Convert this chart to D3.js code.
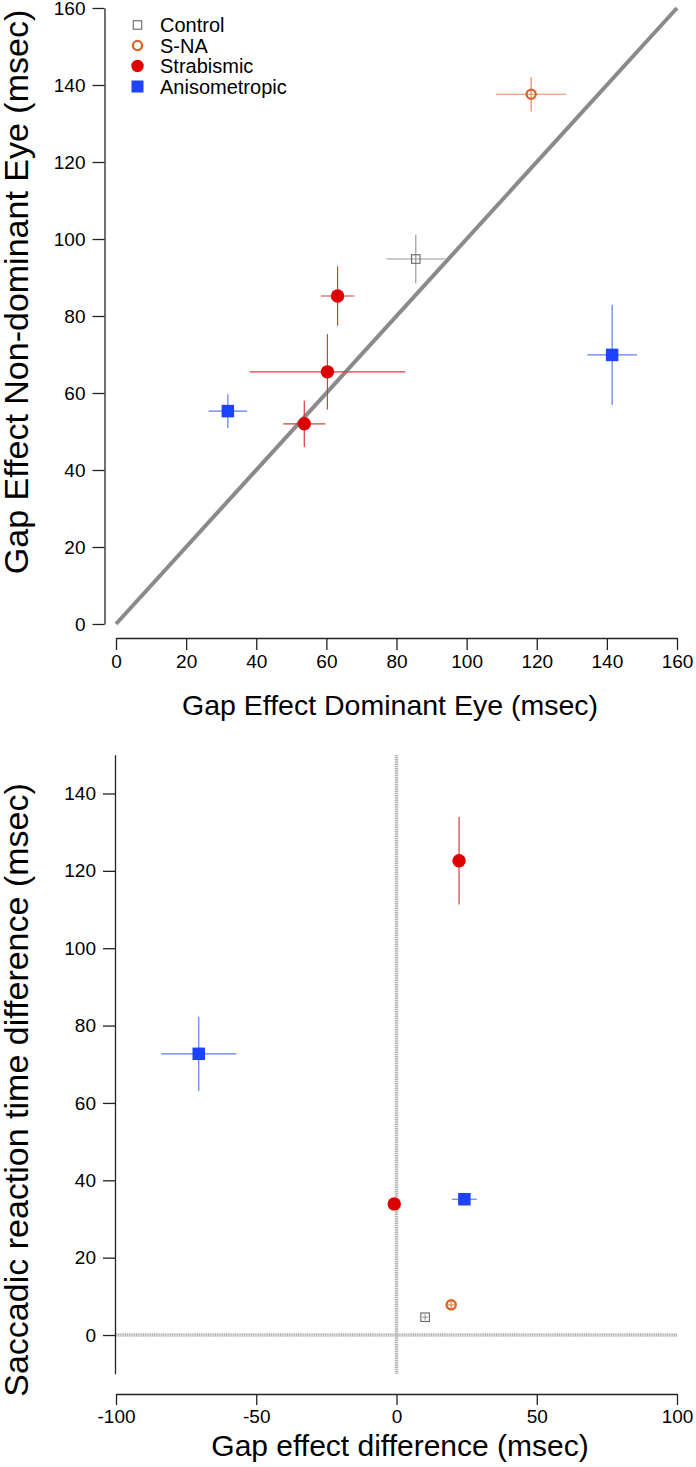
<!DOCTYPE html>
<html><head><meta charset="utf-8">
<script src="https://cdn.jsdelivr.net/npm/d3@7"></script>
<style>
html,body{margin:0;padding:0;background:#fff;}
svg{display:block;font-family:"Liberation Sans",Arial,Helvetica,sans-serif;}
</style></head>
<body>
<svg id="chart" width="696" height="1467"></svg>
<script>
// ---------- DATA ----------
const groups = ["Control", "S-NA", "Strabismic", "Anisometropic"];

// Top panel: gap effect dominant eye (x) vs non-dominant eye (y), with errors
const topGroup = ["Control", "S-NA", "Strabismic", "Strabismic", "Strabismic", "Anisometropic", "Anisometropic"];
const topX     = [85.5, 118.4, 63.2, 60.3, 53.7, 31.9, 141.5];
const topXErr  = [8.4, 10.0, 4.8, 22.2, 6.0, 5.5, 7.1];
const topY     = [94.8, 137.6, 85.2, 65.5, 52.0, 55.3, 69.9];
const topYErr  = [6.3, 4.5, 7.7, 9.8, 6.0, 4.4, 13.0];
const topXTicks = [0, 20, 40, 60, 80, 100, 120, 140, 160];
const topYTicks = [0, 20, 40, 60, 80, 100, 120, 140, 160];

// Bottom panel: gap effect difference (x) vs saccadic RT difference (y)
const botGroup = ["Control", "S-NA", "Strabismic", "Strabismic", "Anisometropic", "Anisometropic"];
const botX     = [10.2, 19.5, 22.3, -0.8, -70.5, 24.2];
const botXErr  = [1.0, 1.2, 1.0, 0.0, 13.4, 4.4];
const botY     = [4.6, 7.8, 122.6, 33.9, 72.7, 35.1];
const botYErr  = [0.8, 1.2, 11.3, 0.0, 9.6, 1.4];
const botXTicks = [-100, -50, 0, 50, 100];
const botYTicks = [0, 20, 40, 60, 80, 100, 120, 140];

// ---------- STYLE ----------
const markerColor = {"Control": "#666666", "S-NA": "#dd6422", "Strabismic": "#dd0000", "Anisometropic": "#1f42ff"};
const errColor    = {"Control": "#9a9a9a", "S-NA": "#e08a5a", "Strabismic": "#d83a3a", "Anisometropic": "#5f7cf2"};
const tickFmt = d => String(d);

const svg = d3.select("#chart");

function drawMarker(g, grp, x, y, legend) {
  if (grp === "Control") {
    const s = 8.5;
    g.append("rect").attr("x", x - s/2).attr("y", y - s/2).attr("width", s).attr("height", s)
      .attr("fill", "none").attr("stroke", markerColor[grp]).attr("stroke-width", 1.1);
  } else if (grp === "S-NA") {
    g.append("circle").attr("cx", x).attr("cy", y).attr("r", legend ? 4.6 : 4.6)
      .attr("fill", "none").attr("stroke", markerColor[grp]).attr("stroke-width", 2.3);
  } else if (grp === "Strabismic") {
    g.append("circle").attr("cx", x).attr("cy", y).attr("r", legend ? 6.2 : 6.7).attr("fill", markerColor[grp]);
  } else {
    const s = legend ? 12 : 12.5;
    g.append("rect").attr("x", x - s/2).attr("y", y - s/2).attr("width", s).attr("height", s)
      .attr("fill", markerColor[grp]);
  }
}

function drawPoints(g, xs, ys, grpArr, xv, xe, yv, ye) {
  grpArr.forEach((grp, i) => {
    const cx = xs(xv[i]), cy = ys(yv[i]);
    const c = errColor[grp];
    if (xe[i] > 0) g.append("line").attr("x1", xs(xv[i] - xe[i])).attr("x2", xs(xv[i] + xe[i]))
      .attr("y1", cy).attr("y2", cy).attr("stroke", c).attr("stroke-width", 1.2);
    if (ye[i] > 0) g.append("line").attr("x1", cx).attr("x2", cx)
      .attr("y1", ys(yv[i] - ye[i])).attr("y2", ys(yv[i] + ye[i])).attr("stroke", c).attr("stroke-width", 1.2);
  });
  grpArr.forEach((grp, i) => drawMarker(g, grp, xs(xv[i]), ys(yv[i]), false));
}

function styleAxis(sel) {
  sel.selectAll("path.domain").attr("stroke", "#222").attr("stroke-width", 1.3);
  sel.selectAll(".tick line").attr("stroke", "#222").attr("stroke-width", 1.3);
  sel.selectAll(".tick text").attr("fill", "#000").attr("font-size", 19)
    .attr("font-family", "'Liberation Sans',Arial,Helvetica,sans-serif");
}

// ---------- TOP PANEL ----------
const tx = d3.scaleLinear().domain([0, 160]).range([116, 677]);
const ty = d3.scaleLinear().domain([0, 160]).range([624, 8]);

const gTop = svg.append("g");
const tyAxis = gTop.append("g").attr("transform", "translate(104.5,0)")
  .call(d3.axisLeft(ty).tickValues(topYTicks).tickSize(12).tickSizeOuter(0).tickPadding(7).tickFormat(tickFmt));
styleAxis(tyAxis);
const txAxis = gTop.append("g").attr("transform", "translate(0,638)")
  .call(d3.axisBottom(tx).tickValues(topXTicks).tickSize(12).tickSizeOuter(0).tickPadding(5).tickFormat(tickFmt));
styleAxis(txAxis);

// identity line
gTop.append("line").attr("x1", tx(0)).attr("y1", ty(0)).attr("x2", tx(160)).attr("y2", ty(160))
  .attr("stroke", "#8a8a8a").attr("stroke-width", 4);

drawPoints(gTop, tx, ty, topGroup, topX, topXErr, topY, topYErr);

// legend
const leg = gTop.append("g");
groups.forEach((grp, i) => {
  const yy = 25 + i * 20.5;
  drawMarker(leg, grp, 137.5, yy, true);
  leg.append("text").attr("x", 160).attr("y", yy).attr("dy", "0.35em")
    .attr("font-size", 20).attr("fill", "#000").text(grp);
});

gTop.append("text").attr("x", 390).attr("y", 715).attr("text-anchor", "middle")
  .attr("font-size", 28.5).attr("fill", "#000").text("Gap Effect Dominant Eye (msec)");
gTop.append("text").attr("transform", "translate(28,292) rotate(-90)").attr("text-anchor", "middle")
  .attr("font-size", 34).attr("fill", "#000").text("Gap Effect Non-dominant Eye (msec)");

// ---------- BOTTOM PANEL ----------
const bx = d3.scaleLinear().domain([-100, 100]).range([116, 677]);
const by = d3.scaleLinear().domain([-10, 150]).range([1373.7, 754.8]);

const gBot = svg.append("g");
const byAxis = gBot.append("g").attr("transform", "translate(115,0)")
  .call(d3.axisLeft(by).tickValues(botYTicks).tickSize(12).tickSizeOuter(0).tickPadding(7).tickFormat(tickFmt));
styleAxis(byAxis);
const bxAxis = gBot.append("g").attr("transform", "translate(0,1394)")
  .call(d3.axisBottom(bx).tickValues(botXTicks).tickSize(11).tickSizeOuter(0).tickPadding(5).tickFormat(tickFmt));
styleAxis(bxAxis);

// zero reference lines (dotted gray)
gBot.append("line").attr("x1", bx(-100)).attr("x2", bx(100)).attr("y1", by(0)).attr("y2", by(0))
  .attr("stroke", "#b4b4b4").attr("stroke-width", 3.6).attr("stroke-dasharray", "1.2 0.6");
gBot.append("line").attr("x1", bx(0)).attr("x2", bx(0)).attr("y1", by(-10)).attr("y2", by(150))
  .attr("stroke", "#b4b4b4").attr("stroke-width", 3.6).attr("stroke-dasharray", "1.2 0.6");

drawPoints(gBot, bx, by, botGroup, botX, botXErr, botY, botYErr);

gBot.append("text").attr("x", 400).attr("y", 1456).attr("text-anchor", "middle")
  .attr("font-size", 30).attr("fill", "#000").text("Gap effect difference (msec)");
gBot.append("text").attr("transform", "translate(28,1090) rotate(-90)").attr("text-anchor", "middle")
  .attr("font-size", 34).attr("fill", "#000").text("Saccadic reaction time difference (msec)");
</script>
</body></html>
